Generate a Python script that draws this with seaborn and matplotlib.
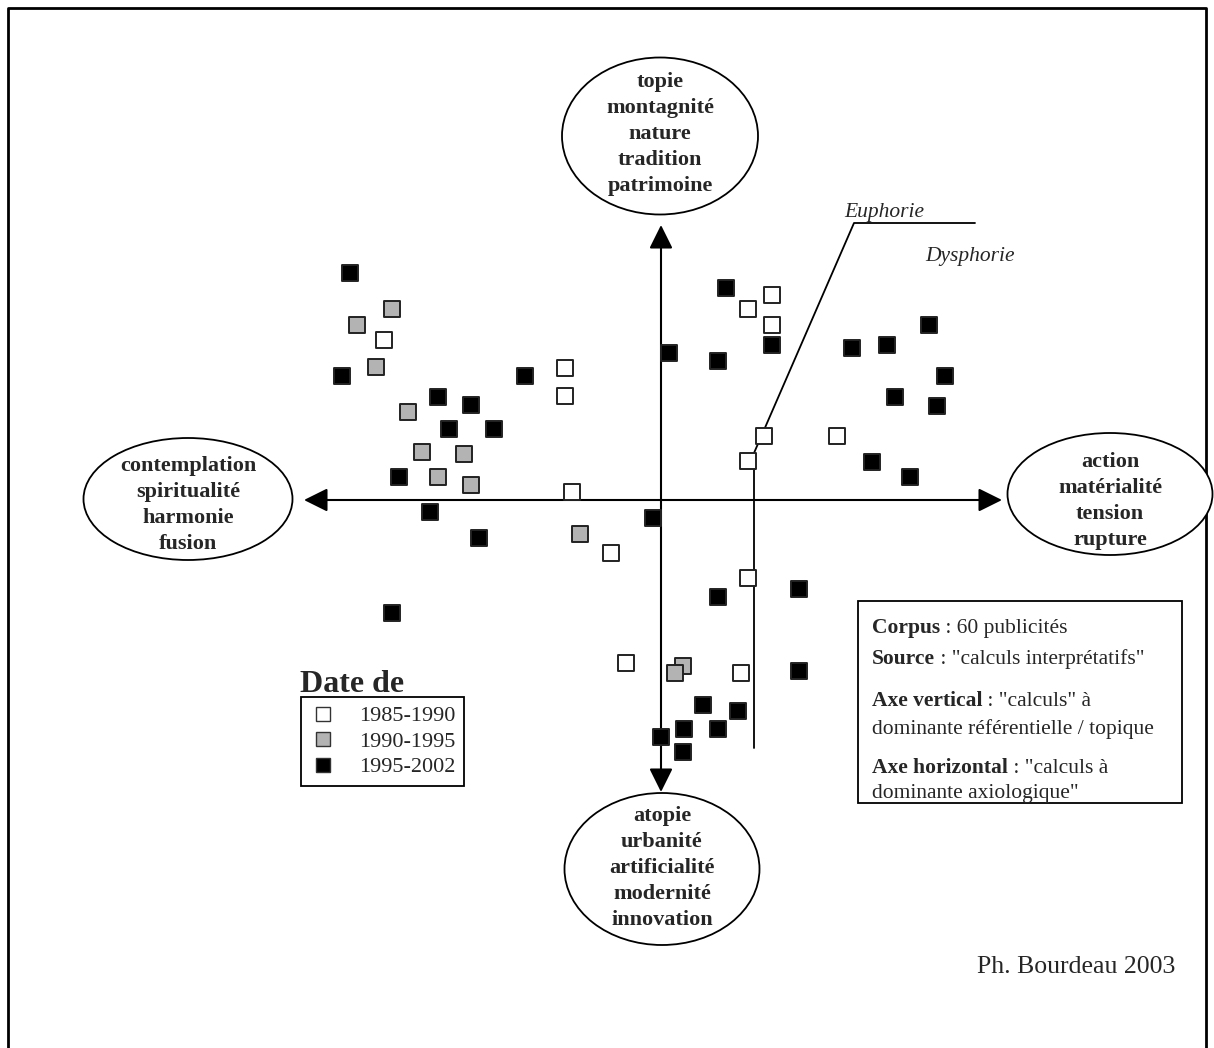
import matplotlib
matplotlib.use("Agg")
import matplotlib.pyplot as plt
from matplotlib.patches import Ellipse, Rectangle
from matplotlib.lines import Line2D
import seaborn as sns
import pandas as pd

x_85 = [384, 565, 565, 572, 611, 748, 772, 772, 764, 748, 837, 748, 626, 741]
y_85 = [340, 368, 396, 492, 553, 309, 295, 325, 436, 461, 436, 578, 663, 673]
x_90 = [392, 357, 376, 408, 422, 464, 438, 471, 580, 683, 675]
y_90 = [309, 325, 367, 412, 452, 454, 477, 485, 534, 666, 673]
x_95 = [350, 342, 525, 438, 471, 449, 494, 399, 430, 479, 653, 669, 726, 772, 718,
        852, 887, 929, 945, 895, 937, 872, 910, 392, 799, 718, 799, 703, 738, 684,
        718, 661, 683]
y_95 = [273, 376, 376, 397, 405, 429, 429, 477, 512, 538, 518, 353, 288, 345, 361,
        348, 345, 325, 376, 397, 406, 462, 477, 613, 589, 597, 671, 705, 711, 729,
        729, 737, 752]
periodes = ["1985-1990", "1990-1995", "1995-2002"]
couleurs = ["white", "#b3b3b3", "black"]

pole_haut = ["topie", "montagnité", "nature", "tradition", "patrimoine"]
pole_bas = ["atopie", "urbanité", "artificialité", "modernité", "innovation"]
pole_gauche = ["contemplation", "spiritualité", "harmonie", "fusion"]
pole_droite = ["action", "matérialité", "tension", "rupture"]

df = pd.DataFrame({
    "x": x_85 + x_90 + x_95,
    "y": y_85 + y_90 + y_95,
    "periode": [periodes[0]] * len(x_85) + [periodes[1]] * len(x_90) + [periodes[2]] * len(x_95),
})

sns.set_theme(style="white")
plt.rcParams["font.family"] = ["Liberation Serif", "DejaVu Serif"]

fig = plt.figure(figsize=(12.14, 10.48), dpi=100)
ax = fig.add_axes([0, 0, 1, 1])
ax.set_xlim(0, 1214)
ax.set_ylim(1048, 0)
ax.axis("off")

# cadre
ax.plot([8, 8, 1206, 1206], [1048, 8, 8, 1048], color="black", lw=2, zorder=1)

# axes principaux
arr = dict(arrowstyle="<|-|>,head_length=1.45,head_width=0.72", mutation_scale=10,
           color="black", lw=1.5, shrinkA=0, shrinkB=0)
ax.annotate("", xy=(304, 500), xytext=(1002, 500), arrowprops=arr, zorder=2)
ax.annotate("", xy=(661, 225), xytext=(661, 792), arrowprops=arr, zorder=2)

# limite euphorie / dysphorie
ax.plot([754, 754, 854, 975], [748, 453, 223, 223], color="black", lw=1.3, zorder=2)
ax.text(884, 212, "Euphorie", style="italic", fontsize=15.5, ha="center", va="center")
ax.text(970, 257, "Dysphorie", style="italic", fontsize=15.5, ha="center", va="center")

# poles
def pole(cx, cy, w, h, mots, ty):
    ax.add_patch(Ellipse((cx, cy), w, h, facecolor="white", edgecolor="black", lw=1.3, zorder=3))
    ax.text(cx, ty, "\n".join(mots), fontsize=16, fontweight="bold", ha="center",
            va="center", linespacing=1.4, zorder=4)

pole(660, 136, 196, 157, pole_haut, 134)
pole(662, 869, 195, 152, pole_bas, 868)
pole(188, 499, 209, 122, pole_gauche, 505)
pole(1110, 494, 205, 122, pole_droite, 501)

# publicites
sns.scatterplot(data=df, x="x", y="y", hue="periode", hue_order=periodes,
                palette=dict(zip(periodes, couleurs)), marker="s", s=128,
                edgecolor="#222222", linewidth=1.4, legend=False, ax=ax, zorder=5)
ax.set_xlim(0, 1214)
ax.set_ylim(1048, 0)

# legende
ax.text(300, 685, "Date de", fontsize=23, fontweight="bold", ha="left", va="center")
poignees = [Line2D([], [], ls="", marker="s", markersize=10.5, markerfacecolor=c,
                   markeredgecolor="#333333", markeredgewidth=1) for c in couleurs]
leg = ax.legend(poignees, periodes, loc="upper left", bbox_to_anchor=(301 / 1214, 1 - 697 / 1048),
                borderaxespad=0, frameon=True, fancybox=False, edgecolor="black",
                framealpha=1, fontsize=16, handlelength=1.2, handletextpad=1.0,
                labelspacing=0.22, borderpad=0.4)
leg.get_frame().set_linewidth(1.3)

# encadre corpus
ax.add_patch(Rectangle((858, 601), 324, 202, facecolor="white", edgecolor="black", lw=1.3, zorder=3))
lignes = [
    (633, "Corpus", " : 60 publicités"),
    (664, "Source", " : \"calculs interprétatifs\""),
    (706, "Axe vertical", " : \"calculs\" à"),
    (734, "", "dominante référentielle / topique"),
    (773, "Axe horizontal", " : \"calculs à"),
    (798, "", "dominante axiologique\""),
]
fig.canvas.draw()
rend = fig.canvas.get_renderer()
for yb, gras, normal in lignes:
    x0 = 872
    if gras:
        t = ax.text(x0, yb, gras, fontsize=15.5, fontweight="bold", ha="left", va="baseline", zorder=4)
        bb = t.get_window_extent(renderer=rend)
        x0 = x0 + bb.width * 1214 / fig.bbox.width
    ax.text(x0, yb, normal, fontsize=15.5, ha="left", va="baseline", zorder=4)

ax.text(1175, 967, "Ph. Bourdeau 2003", fontsize=18.5, ha="right", va="center")

fig.savefig("out.png", dpi=100)
